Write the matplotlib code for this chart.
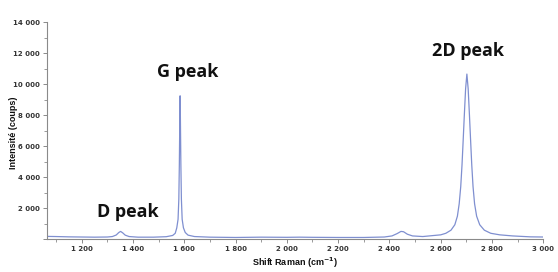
import matplotlib
matplotlib.use("Agg")
import matplotlib.pyplot as plt
from matplotlib.ticker import MultipleLocator, FuncFormatter

# Raman spectrum (shift in cm-1, intensity in counts)
shift = [1065, 1100, 1150, 1200, 1250, 1300, 1320, 1335, 1345, 1352, 1360, 1370, 1385,
         1420, 1480, 1530, 1555, 1565, 1571, 1576, 1579, 1581, 1583, 1584, 1585, 1587,
         1589, 1592, 1597, 1604, 1615, 1640, 1700, 1800, 1900, 2000, 2050, 2100, 2200,
         2300, 2380, 2410, 2430, 2445, 2455, 2470, 2490, 2530, 2600, 2620, 2640, 2655,
         2665, 2672, 2678, 2683, 2687, 2692, 2697, 2702, 2707, 2712, 2717, 2721, 2726,
         2732, 2740, 2752, 2770, 2795, 2830, 2880, 2950, 3000]
intensity = [200, 190, 170, 160, 150, 160, 190, 290, 450, 520, 430, 280, 190,
             150, 150, 180, 260, 400, 750, 1300, 2600, 4800, 8000, 9250, 8000, 4800,
             2600, 1300, 750, 450, 280, 190, 150, 130, 150, 140, 150, 140, 130,
             130, 160, 230, 380, 520, 500, 340, 230, 190, 300, 400, 600, 950,
             1500, 2300, 3400, 4800, 6200, 8000, 9700, 10650, 9700, 8000, 6200, 4800, 3400,
             2300, 1500, 950, 600, 400, 300, 230, 170, 160]

peak_labels = ["D peak", "G peak", "2D peak"]
peak_label_x = [1380, 1615, 2707]
peak_label_y = [1800, 10800, 12150]

fig = plt.figure(figsize=(5.58, 2.72), dpi=100)
ax = fig.add_axes([0.0842, 0.1195, 0.8895, 0.7995])

ax.plot(shift, intensity, color="#7f8fd0", lw=0.9)

ax.set_xlim(1065, 3000)
ax.set_ylim(0, 14000)

ax.xaxis.set_major_locator(MultipleLocator(200))
ax.xaxis.set_minor_locator(MultipleLocator(100))
ax.yaxis.set_major_locator(MultipleLocator(2000))
ax.yaxis.set_minor_locator(MultipleLocator(1000))

def fmt(v, pos):
    if v <= 0:
        return ""
    return f"{int(round(v)):,}".replace(",", " ")

ax.xaxis.set_major_formatter(FuncFormatter(fmt))
ax.yaxis.set_major_formatter(FuncFormatter(fmt))

for s in ["top", "right"]:
    ax.spines[s].set_visible(False)
for s in ["left", "bottom"]:
    ax.spines[s].set_color("#8a8a8a")
    ax.spines[s].set_linewidth(0.8)

ax.tick_params(which="major", direction="out", length=3, width=0.7, color="#8a8a8a",
               labelsize=5, labelcolor="#333333", pad=2)
ax.tick_params(which="minor", direction="out", length=2, width=0.6, color="#8a8a8a")
for lab in ax.get_xticklabels() + ax.get_yticklabels():
    lab.set_fontweight("bold")
    lab.set_family("DejaVu Sans")

ax.set_xlabel(r"Shift Raman (cm$^{\mathbf{-1}}$)", fontsize=6.5, fontweight="bold",
              family="Liberation Sans", color="#111111", labelpad=2)
ax.set_ylabel("Intensité (coups)", fontsize=6.5, fontweight="bold",
              family="Liberation Sans", color="#111111")
ax.yaxis.set_label_coords(-0.058, 0.49)

for t, x, y in zip(peak_labels, peak_label_x, peak_label_y):
    ax.text(x, y, t, ha="center", va="center", fontsize=13, fontweight="bold",
            family="Open Sans", color="#111111")

fig.savefig("out.png", dpi=100)
